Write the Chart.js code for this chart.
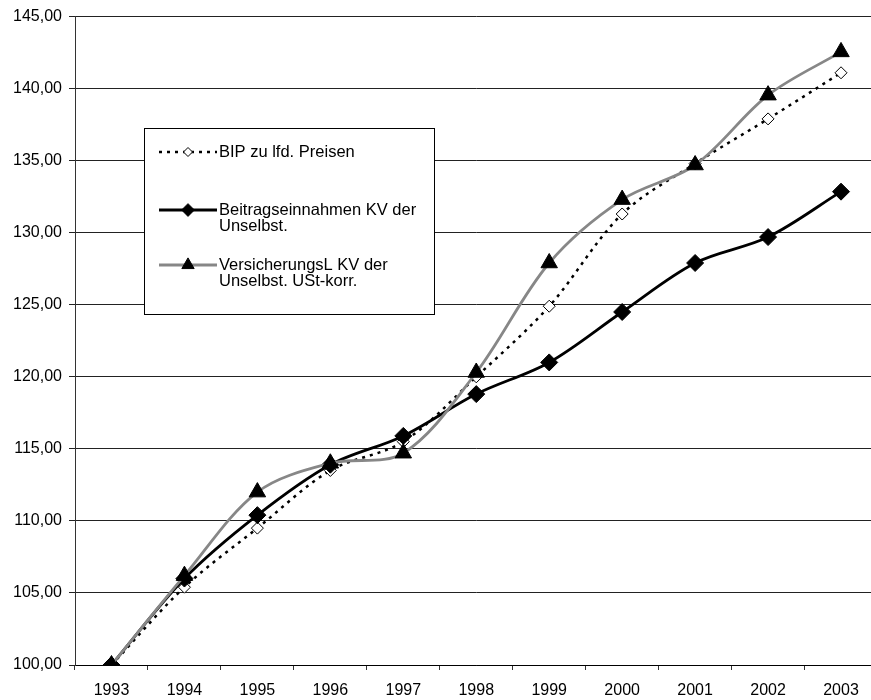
<!DOCTYPE html>
<html>
<head>
<meta charset="utf-8">
<script src="https://cdn.jsdelivr.net/npm/chart.js@4/dist/chart.umd.min.js"></script>
<style>
  html, body { margin: 0; padding: 0; background: #fff; overflow: hidden; }
  #wrap { position: absolute; left: 0; top: 0; width: 888px; height: 700px; }
</style>
</head>
<body>
<div id="wrap"><canvas id="chart" width="888" height="700"></canvas></div>
<script>
// Jahre (x-Achse)
const years = ['1993', '1994', '1995', '1996', '1997', '1998', '1999', '2000', '2001', '2002', '2003'];

// Indexwerte, 1993 = 100
const bipValues = [100, 105.4, 109.5, 113.5, 115.5, 120.0, 124.9, 131.3, 134.8, 137.9, 141.1];
const beitragValues = [100, 106.0, 110.4, 113.9, 115.9, 118.8, 121.0, 124.5, 127.9, 129.7, 132.85];
const versichValues = [100, 106.2, 112.0, 114.0, 114.7, 120.3, 127.9, 132.3, 134.7, 139.55, 142.55];

// Legendentexte (mehrzeilig)
const legendLabels = [
  ['BIP zu lfd. Preisen'],
  ['Beitragseinnahmen KV der', 'Unselbst.'],
  ['VersicherungsL KV der', 'Unselbst. USt-korr.']
];

// y-Achse
const yMin = 100;
const yMax = 145;
const yStep = 5;

const FONT = '"Liberation Sans", Arial, sans-serif';

// Legende innerhalb der Zeichenfläche, wie im Excel-Original
const insideLegend = {
  id: 'insideLegend',
  afterDraw(chart) {
    const ctx = chart.ctx;
    const box = { x: 144.5, y: 128.5, w: 290, h: 186 };
    const rowY = [152, 210, 265];
    ctx.save();
    ctx.fillStyle = '#fff';
    ctx.strokeStyle = '#000';
    ctx.lineWidth = 1;
    ctx.fillRect(box.x, box.y, box.w, box.h);
    ctx.strokeRect(box.x, box.y, box.w, box.h);

    chart.data.datasets.forEach((ds, i) => {
      const y = rowY[i];
      // Linienmuster
      ctx.beginPath();
      ctx.setLineDash(ds.borderDash || []);
      ctx.strokeStyle = ds.borderColor;
      ctx.lineWidth = ds.borderWidth;
      ctx.moveTo(159, y);
      ctx.lineTo(217, y);
      ctx.stroke();
      ctx.setLineDash([]);
      // Marker
      ctx.fillStyle = ds.pointBackgroundColor;
      ctx.strokeStyle = ds.pointBorderColor;
      ctx.lineWidth = ds.pointBorderWidth;
      Chart.helpers.drawPoint(ctx, {
        pointStyle: ds.pointStyle,
        radius: ds.pointRadius * 0.75,
        rotation: 0,
        borderWidth: ds.pointBorderWidth
      }, 188, y);
      // Text
      ctx.fillStyle = '#000';
      ctx.font = '16.5px ' + FONT;
      ctx.textAlign = 'left';
      ctx.textBaseline = 'middle';
      legendLabels[i].forEach((line, j) => {
        ctx.fillText(line, 219, y + j * 16.5);
      });
    });
    ctx.restore();
  }
};

new Chart(document.getElementById('chart'), {
  type: 'line',
  data: {
    labels: years,
    datasets: [
      {
        label: legendLabels[0].join(' '),
        data: bipValues,
        borderColor: '#000',
        borderWidth: 2.5,
        borderDash: [3, 5],
        tension: 0.33,
        pointStyle: 'rectRot',
        pointRadius: 6,
        pointBackgroundColor: '#fff',
        pointBorderColor: '#000',
        pointBorderWidth: 1,
        order: 3
      },
      {
        label: legendLabels[1].join(' '),
        data: beitragValues,
        borderColor: '#000',
        borderWidth: 2.8,
        tension: 0.33,
        pointStyle: 'rectRot',
        pointRadius: 8.5,
        pointBackgroundColor: '#000',
        pointBorderColor: '#000',
        pointBorderWidth: 1,
        order: 2
      },
      {
        label: legendLabels[2].join(' '),
        data: versichValues,
        borderColor: '#878787',
        borderWidth: 2.8,
        tension: 0.33,
        pointStyle: 'triangle',
        pointRadius: 9.5,
        pointBackgroundColor: '#000',
        pointBorderColor: '#000',
        pointBorderWidth: 1,
        order: 1
      }
    ]
  },
  options: {
    responsive: false,
    animation: false,
    events: [],
    layout: { padding: { left: 0, top: 16, right: 0, bottom: 0 } },
    plugins: {
      legend: { display: false },
      tooltip: { enabled: false }
    },
    scales: {
      x: {
        offset: true,
        grid: {
          offset: true,
          drawOnChartArea: false,
          drawTicks: true,
          tickLength: 5,
          color: '#333'
        },
        border: { display: true, color: '#000', width: 1 },
        ticks: {
          color: '#000',
          font: { family: FONT, size: 16 },
          padding: 11,
          maxRotation: 0,
          autoSkip: false
        },
        afterFit: s => { s.height = 35; }
      },
      y: {
        min: yMin,
        max: yMax,
        grid: {
          color: '#222',
          lineWidth: 1,
          tickLength: 6
        },
        border: { display: true, color: '#333', width: 1 },
        ticks: {
          stepSize: yStep,
          color: '#000',
          font: { family: FONT, size: 16 },
          padding: 7,
          callback: v => v.toFixed(2).replace('.', ',')
        },
        afterFit: s => { s.width = 75; }
      }
    }
  },
  plugins: [insideLegend]
});
</script>
</body>
</html>
